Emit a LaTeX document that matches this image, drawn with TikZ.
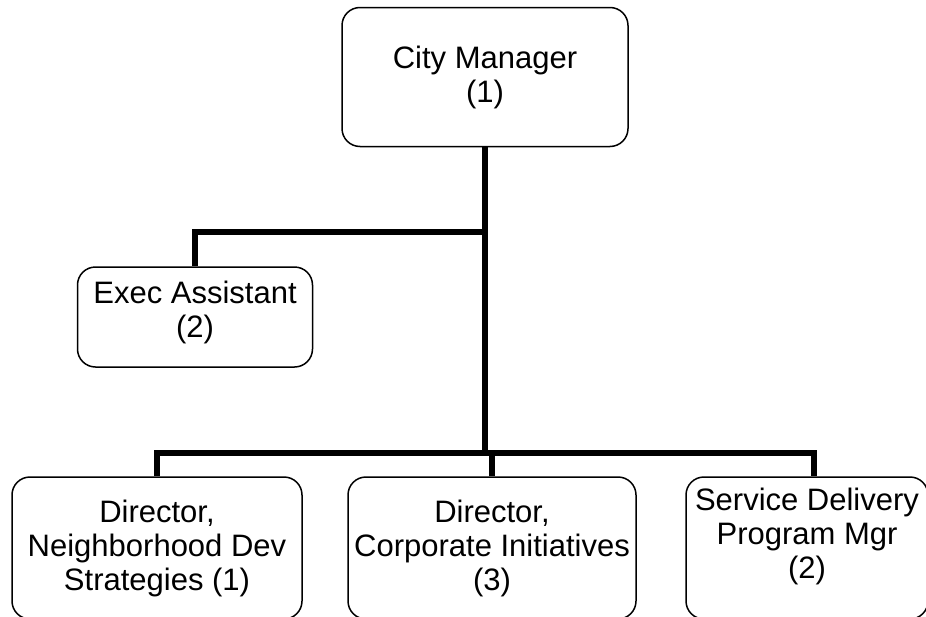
\documentclass[tikz,border=0pt]{standalone}
\usepackage{fontspec}
\setmainfont{Liberation Sans}
\usepackage{tikz}

\begin{document}
\begin{tikzpicture}[x=1pt,y=-1pt]
\tikzset{every node/.style={font=\fontsize{31}{34}\selectfont}}
\tikzset{unit/.style={draw, line width=1.5pt, rounded corners=18pt, align=center, inner sep=0pt}}
\tikzset{link/.style={line width=6pt}}
\useasboundingbox (0,0) rectangle (926,616);
% boxes
\node[unit, minimum width=286pt, minimum height=139pt] (cm) at (485,77) {City Manager\\(1)};
\node[unit, minimum width=235pt, minimum height=100pt, text depth=16pt] (ea) at (195,317) {Exec Assistant\\(2)};
\node[unit, minimum width=290pt, minimum height=142pt] (nd) at (157,548) {Director,\\Neighborhood Dev\\Strategies (1)};
\node[unit, minimum width=288pt, minimum height=142pt] (ci) at (492,548) {Director,\\Corporate Initiatives\\(3)};
\node[unit, minimum width=242pt, minimum height=142pt, text depth=30pt] (sd) at (807,548) {Service Delivery\\Program Mgr\\(2)};
% lines
\coordinate (ab) at (485,232);
\coordinate (bus) at (485,453);
\coordinate (rt) at (814,453);
\draw[link] (cm.south) -- (bus);
\draw[link] (ab) -| (ea.north);
\draw[link] (nd.north) |- (rt) -- (rt |- sd.north);
\draw[link] (ci.north) -- (ci.north |- bus);
\end{tikzpicture}
\end{document}
